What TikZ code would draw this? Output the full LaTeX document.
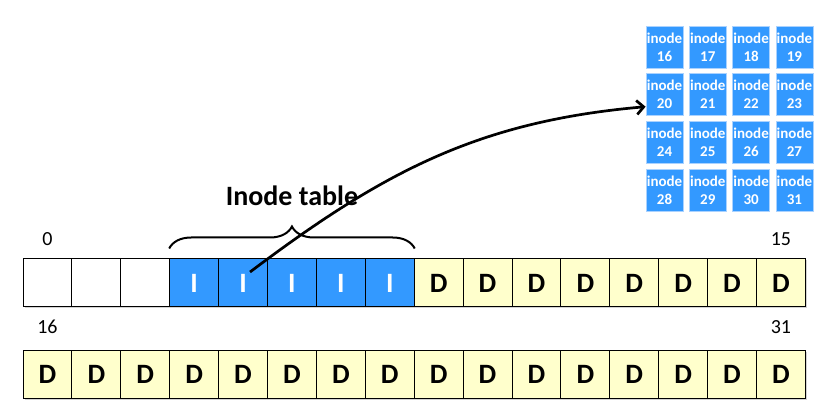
\documentclass[tikz,border=0pt]{standalone}
\usepackage{fontspec}
\setmainfont{Carlito}
\usepackage{tikz}
\usetikzlibrary{positioning, shadows, calc, arrows.meta, decorations.pathreplacing}
\definecolor{blockblue}{RGB}{51,153,255}
\definecolor{blockyellow}{RGB}{255,255,204}
\definecolor{inodeedge}{RGB}{170,210,255}
\tikzstyle{block} = [rectangle, draw=black, line width=1pt, minimum width=48.9pt, minimum height=48pt, inner sep=0pt, font=\fontsize{28}{28}\selectfont\bfseries, drop shadow={shadow xshift=1.5pt, shadow yshift=-1.5pt, opacity=0.35}]
\tikzstyle{freeblock} = [block, fill=white]
\tikzstyle{itableblock} = [block, fill=blockblue, text=white]
\tikzstyle{datablock} = [block, fill=blockyellow]
\tikzstyle{inodebox} = [rectangle, fill=blockblue, draw=inodeedge, line width=0.8pt, minimum width=37pt, minimum height=42pt, inner sep=0pt, text=white, align=center, font=\fontsize{15}{18}\selectfont\bfseries]
\tikzstyle{numlabel} = [inner sep=0pt, font=\fontsize{20}{20}\selectfont]
\tikzstyle{arrow} = [line width=2.7pt, -{Straight Barb[length=7pt,width=14pt]}]

\begin{document}
\begin{tikzpicture}[x=1pt, y=1pt]
\useasboundingbox (0,0) rectangle (826,404);

% blocks 0-15
\foreach \i in {0,1,2}
    \node[freeblock] (cell\i) at ({23+48.9*(\i+0.5)},121) {};
\foreach \i in {3,...,7}
    \node[itableblock] (cell\i) at ({23+48.9*(\i+0.5)},121) {I};
\foreach \i in {8,...,15}
    \node[datablock] (cell\i) at ({23+48.9*(\i+0.5)},121) {D};

% blocks 16-31
\foreach \i in {16,...,31}
    \node[datablock] (cell\i) at ({23+48.9*(\i-16+0.5)},30) {D};

\node[numlabel, above=13pt of cell0.north] (num0) {0};
\node[numlabel, above=13pt of cell15.north] (num15) {15};
\node[numlabel, above=16pt of cell16.north] (num16) {16};
\node[numlabel, above=16pt of cell31.north] (num31) {31};

% inode table contents
\foreach \r in {0,...,3}
    \foreach \c in {0,...,3} {
        \pgfmathtruncatemacro{\n}{16+4*\r+\c}
        \node[inodebox] (inode\n) at ({664.5+43.3*\c},{357-47.7*\r}) {inode\\\n};
    }

\draw[line width=2pt, decorate, decoration={brace, amplitude=22pt}]
    ([yshift=10pt]cell3.north west) -- ([yshift=10pt]cell7.north east)
    node[midway, above=42pt, inner sep=0pt, font=\fontsize{28}{28}\selectfont\bfseries] (tablelabel) {Inode table};

\draw[arrow] ([shift={(7pt,11pt)}]cell4.center) to[out=37, in=185] ([yshift=-12pt]inode20.west);

\end{tikzpicture}
\end{document}
